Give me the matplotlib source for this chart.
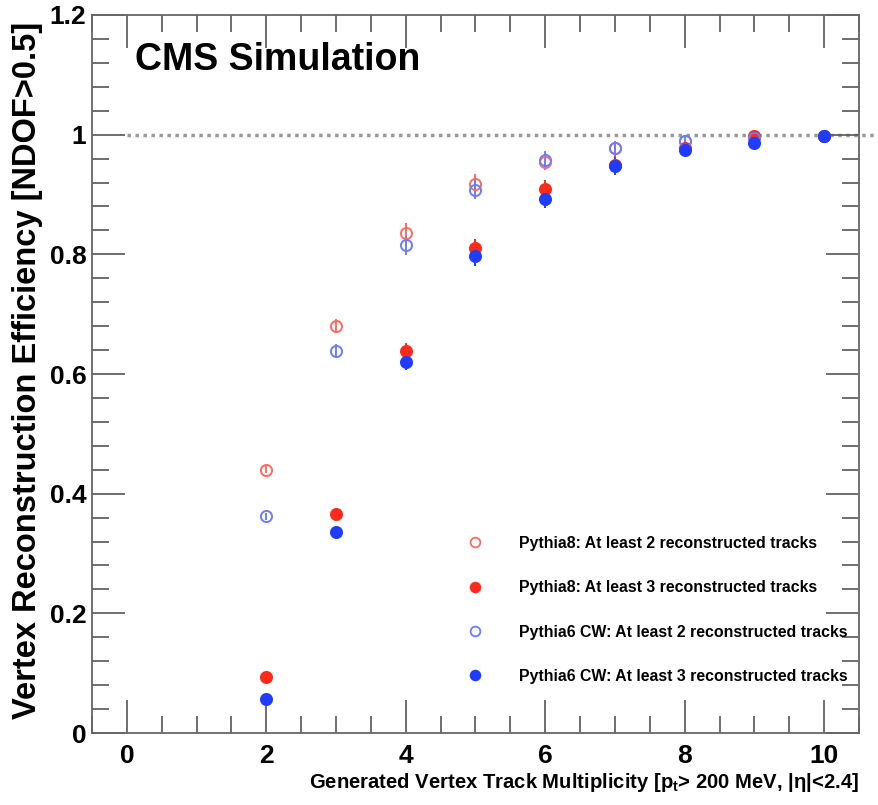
import matplotlib
matplotlib.use("Agg")
import matplotlib.pyplot as plt
from matplotlib.ticker import MultipleLocator
from matplotlib.lines import Line2D

x = [2, 3, 4, 5, 6, 7, 8, 9, 10]
p8_2trk = [0.440, 0.680, 0.836, 0.918, 0.955, 0.978, 0.990, 0.996, 0.998]
p8_3trk = [0.094, 0.366, 0.638, 0.810, 0.910, 0.950, 0.978, 0.998, 0.998]
p6_2trk = [0.362, 0.638, 0.815, 0.908, 0.958, 0.977, 0.990, 0.994, 0.998]
p6_3trk = [0.056, 0.336, 0.620, 0.797, 0.893, 0.947, 0.975, 0.986, 0.997]
err_2trk = [0.006, 0.012, 0.016, 0.016, 0.014, 0.012, 0.010, 0.008, 0.010]
err_3trk = [0.005, 0.008, 0.014, 0.016, 0.015, 0.014, 0.012, 0.010, 0.010]
labels = ["Pythia8: At least 2 reconstructed tracks",
          "Pythia8: At least 3 reconstructed tracks",
          "Pythia6 CW: At least 2 reconstructed tracks",
          "Pythia6 CW: At least 3 reconstructed tracks"]

FONT = ["Liberation Sans", "DejaVu Sans"]
plt.rcParams['font.family'] = FONT
plt.rcParams['font.weight'] = 'bold'
plt.rcParams['mathtext.fontset'] = 'custom'
plt.rcParams['mathtext.rm'] = 'Liberation Sans:bold'
plt.rcParams['mathtext.it'] = 'DejaVu Sans:bold'
plt.rcParams['mathtext.default'] = 'rm'

fig = plt.figure(figsize=(8.79, 8.05), dpi=100)
# axes: left 92px, right 859px, top 15px, bottom 733px
ax = fig.add_axes([92/879, (805-733)/805, (859-92)/879, (733-15)/805])

red = "#ff2a1a"
blue = "#1f3cff"
series = [
    (p8_2trk, err_2trk, 'none', "#ff6a60"),
    (p8_3trk, err_3trk, red, red),
    (p6_2trk, err_2trk, 'none', "#6a7dff"),
    (p6_3trk, err_3trk, blue, blue),
]
handles = []
for (vals, errs, fc, ec), lab in zip(series, labels):
    ax.errorbar(x, vals, yerr=errs, fmt='o', ms=8, mfc=fc, mec=ec, mew=1.4,
                ecolor=ec, elinewidth=1.4, capsize=0, zorder=3)
    handles.append(Line2D([], [], ls='none', marker='o', ms=7, mfc=fc, mec=ec,
                          mew=1.3, label=lab))

ax.plot([0, 11.2], [1, 1], ls=(0, (1, 1.3)), color="#999999", lw=2.5,
        clip_on=False, zorder=1)

ax.set_xlim(-0.5, 10.5)
ax.set_ylim(0, 1.2)
ax.xaxis.set_major_locator(MultipleLocator(2))
ax.xaxis.set_minor_locator(MultipleLocator(0.5))
ax.yaxis.set_minor_locator(MultipleLocator(0.04))
ax.set_yticks([0, 0.2, 0.4, 0.6, 0.8, 1.0, 1.2])
ax.set_yticklabels(["0", "0.2", "0.4", "0.6", "0.8", "1", "1.2"])
ax.tick_params(which='both', direction='in', top=True, right=True,
               color="#555555", width=1.2, labelsize=19)
ax.tick_params(which='major', length=24)
ax.tick_params(which='minor', length=12)
ax.tick_params(axis='x', pad=8)
ax.tick_params(axis='y', pad=4)
for s in ax.spines.values():
    s.set_color("#666666")
    s.set_linewidth(1.3)

ax.set_ylabel("Vertex Reconstruction Efficiency [NDOF>0.5]", fontsize=23.5,
              fontweight='bold')
ax.yaxis.set_label_coords(-0.064, 0.505)
ax.set_xlabel(r"Generated Vertex Track Multiplicity [p$_{\mathregular{t}}$> 200 MeV, |$\eta$|<2.4]",
              fontsize=14.6, fontweight='bold', loc='right', labelpad=2)

ax.text(0.056, 0.963, "CMS Simulation", transform=ax.transAxes, fontsize=27,
        fontweight='bold', va='top', ha='left')

leg = ax.legend(handles=handles, loc='upper left',
                bbox_to_anchor=(459/879, (805-528)/805),
                bbox_transform=fig.transFigure, borderpad=0,
                frameon=False, fontsize=11.4, labelspacing=1.85, handletextpad=2.3,
                handlelength=1.0)

fig.savefig("out.png", dpi=100)
